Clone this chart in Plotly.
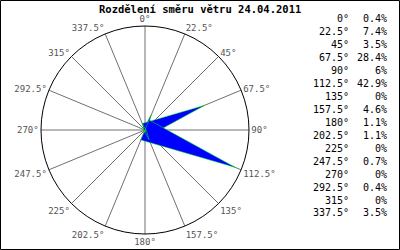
import plotly.graph_objects as go

# ---- data ----
directions = [0, 22.5, 45, 67.5, 90, 112.5, 135, 157.5, 180, 202.5, 225, 247.5, 270, 292.5, 315, 337.5]
percent = [0.4, 7.4, 3.5, 28.4, 6, 42.9, 0, 4.6, 1.1, 1.1, 0, 0.7, 0, 0.4, 0, 3.5]
angle_labels = [f"{a:g}°" for a in directions]
percent_labels = [f"{p:g}%" for p in percent]
title_text = "Rozdělení směru větru 24.04.2011"

W, H = 400, 250
MONO = "DejaVu Sans Mono"

fig = go.Figure()

# wind rose wedges (narrow triangles: base across the centre, apex at the value)
for a, p in zip(directions, percent):
    if p <= 0:
        continue
    b = 0.11 * p
    fig.add_trace(go.Scatterpolar(
        r=[b, p, b, b],
        theta=[a - 90, a, a + 90, a - 90],
        mode="lines",
        fill="toself",
        fillcolor="#0000ff",
        line=dict(color="#00ff00", width=0.5),
        showlegend=False,
        hoverinfo="skip",
    ))

cx, cy, rad = 145, 130, 104
fig.update_layout(
    width=W, height=H,
    margin=dict(l=0, r=0, t=0, b=0),
    paper_bgcolor="white",
    plot_bgcolor="white",
    polar=dict(
        domain=dict(x=[(cx - rad) / W, (cx + rad) / W],
                    y=[(H - cy - rad) / H, (H - cy + rad) / H]),
        bgcolor="white",
        radialaxis=dict(visible=False, range=[0, 45.5]),
        angularaxis=dict(
            rotation=90, direction="clockwise",
            tickmode="array", tickvals=directions, ticktext=angle_labels,
            showline=True, linecolor="black", linewidth=1,
            showgrid=True, gridcolor="#707070", gridwidth=1,
            ticks="", tickfont=dict(family=MONO, size=9, color="#555555"),
        ),
    ),
    showlegend=False,
)

ann = [dict(text=f"<b>{title_text}</b>", x=200 / W, y=1 - 9 / H, xref="paper", yref="paper",
            xanchor="center", yanchor="middle", showarrow=False,
            font=dict(family=MONO, size=10.5, color="black"))]
for i, (dl, pl) in enumerate(zip(angle_labels, percent_labels)):
    yy = 1 - (19 + 12.93 * i) / H
    ann.append(dict(text=dl, x=351 / W, y=yy, xref="paper", yref="paper",
                    xanchor="right", yanchor="middle", showarrow=False,
                    font=dict(family=MONO, size=10, color="black")))
    ann.append(dict(text=pl, x=389 / W, y=yy, xref="paper", yref="paper",
                    xanchor="right", yanchor="middle", showarrow=False,
                    font=dict(family=MONO, size=10, color="black")))
fig.update_layout(annotations=ann)

fig.add_shape(type="rect", xref="paper", yref="paper",
              x0=0.5 / W, x1=1 - 0.5 / W, y0=0.5 / H, y1=1 - 0.5 / H,
              line=dict(color="black", width=1), fillcolor="rgba(0,0,0,0)")

fig.write_html("out.html")
